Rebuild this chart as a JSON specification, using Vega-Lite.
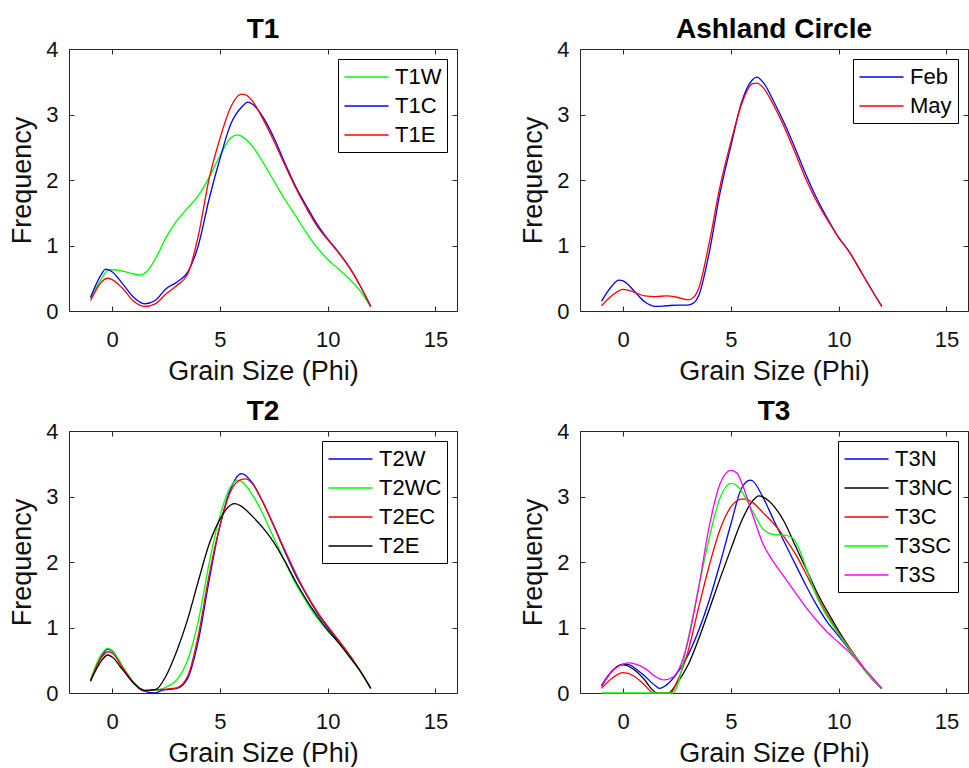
{
  "$schema": "https://vega.github.io/schema/vega-lite/v6.json",
  "background": "white",
  "padding": {"left": 8, "top": 15, "right": 0, "bottom": 0},
  "columns": 2,
  "spacing": {"row": 120, "column": 123},
  "bounds": "flush",
  "resolve": {"scale": {"color": "independent"}, "legend": {"color": "independent"}},
  "config": {
    "font": "Liberation Sans",
    "view": {"stroke": "#262626", "strokeWidth": 1},
    "title": {"font": "Liberation Sans", "fontSize": 28, "fontWeight": "bold", "color": "black", "offset": -6, "anchor": "middle"},
    "axis": {"grid": false, "domain": false, "tickSize": -5, "tickColor": "#262626", "labelFont": "Liberation Sans", "labelFontSize": 22, "labelColor": "#111", "titleFont": "Liberation Sans", "titleFontSize": 27, "titleFontWeight": "normal", "titleColor": "#111"},
    "legend": {"orient": "top-right", "offset": 10, "title": null, "strokeColor": "black", "fillColor": "white", "padding": 5.5, "symbolType": "M-1.913,0H1.913", "symbolSize": 529, "symbolOffset": 10.5, "symbolStrokeWidth": 1.3, "labelFont": "Liberation Sans", "labelFontSize": 22, "labelColor": "black", "rowPadding": 5, "labelOffset": 16}
  },
  "datasets": {
    "t1": [
      {"phi": -1, "freq": 0.19, "sample": "T1W"}, {"phi": -0.5, "freq": 0.49, "sample": "T1W"}, {"phi": -0.2, "freq": 0.62, "sample": "T1W"}, {"phi": 0, "freq": 0.63, "sample": "T1W"}, {"phi": 0.5, "freq": 0.61, "sample": "T1W"}, {"phi": 1, "freq": 0.565, "sample": "T1W"}, {"phi": 1.3, "freq": 0.55, "sample": "T1W"}, {"phi": 1.6, "freq": 0.6, "sample": "T1W"}, {"phi": 2, "freq": 0.79, "sample": "T1W"}, {"phi": 2.5, "freq": 1.12, "sample": "T1W"}, {"phi": 3, "freq": 1.38, "sample": "T1W"}, {"phi": 3.5, "freq": 1.57, "sample": "T1W"}, {"phi": 4, "freq": 1.76, "sample": "T1W"}, {"phi": 4.5, "freq": 2.04, "sample": "T1W"}, {"phi": 5, "freq": 2.37, "sample": "T1W"}, {"phi": 5.5, "freq": 2.64, "sample": "T1W"}, {"phi": 5.8, "freq": 2.69, "sample": "T1W"}, {"phi": 6, "freq": 2.67, "sample": "T1W"}, {"phi": 6.5, "freq": 2.52, "sample": "T1W"}, {"phi": 7, "freq": 2.27, "sample": "T1W"}, {"phi": 7.5, "freq": 1.99, "sample": "T1W"}, {"phi": 8, "freq": 1.71, "sample": "T1W"}, {"phi": 8.5, "freq": 1.46, "sample": "T1W"}, {"phi": 9, "freq": 1.2, "sample": "T1W"}, {"phi": 9.5, "freq": 0.97, "sample": "T1W"}, {"phi": 10, "freq": 0.79, "sample": "T1W"}, {"phi": 10.5, "freq": 0.64, "sample": "T1W"}, {"phi": 11, "freq": 0.49, "sample": "T1W"}, {"phi": 11.5, "freq": 0.31, "sample": "T1W"}, {"phi": 12, "freq": 0.06, "sample": "T1W"},
      {"phi": -1, "freq": 0.21, "sample": "T1C"}, {"phi": -0.5, "freq": 0.56, "sample": "T1C"}, {"phi": -0.3, "freq": 0.64, "sample": "T1C"}, {"phi": 0, "freq": 0.6, "sample": "T1C"}, {"phi": 0.5, "freq": 0.41, "sample": "T1C"}, {"phi": 1, "freq": 0.21, "sample": "T1C"}, {"phi": 1.5, "freq": 0.11, "sample": "T1C"}, {"phi": 2, "freq": 0.16, "sample": "T1C"}, {"phi": 2.5, "freq": 0.34, "sample": "T1C"}, {"phi": 3, "freq": 0.44, "sample": "T1C"}, {"phi": 3.5, "freq": 0.59, "sample": "T1C"}, {"phi": 4, "freq": 1.0, "sample": "T1C"}, {"phi": 4.5, "freq": 1.71, "sample": "T1C"}, {"phi": 5, "freq": 2.32, "sample": "T1C"}, {"phi": 5.5, "freq": 2.85, "sample": "T1C"}, {"phi": 6, "freq": 3.11, "sample": "T1C"}, {"phi": 6.3, "freq": 3.19, "sample": "T1C"}, {"phi": 6.5, "freq": 3.16, "sample": "T1C"}, {"phi": 7, "freq": 2.96, "sample": "T1C"}, {"phi": 7.5, "freq": 2.65, "sample": "T1C"}, {"phi": 8, "freq": 2.27, "sample": "T1C"}, {"phi": 8.5, "freq": 1.91, "sample": "T1C"}, {"phi": 9, "freq": 1.61, "sample": "T1C"}, {"phi": 9.5, "freq": 1.33, "sample": "T1C"}, {"phi": 10, "freq": 1.1, "sample": "T1C"}, {"phi": 10.5, "freq": 0.9, "sample": "T1C"}, {"phi": 11, "freq": 0.67, "sample": "T1C"}, {"phi": 11.5, "freq": 0.39, "sample": "T1C"}, {"phi": 12, "freq": 0.07, "sample": "T1C"},
      {"phi": -1, "freq": 0.16, "sample": "T1E"}, {"phi": -0.5, "freq": 0.44, "sample": "T1E"}, {"phi": -0.2, "freq": 0.5, "sample": "T1E"}, {"phi": 0, "freq": 0.48, "sample": "T1E"}, {"phi": 0.5, "freq": 0.34, "sample": "T1E"}, {"phi": 1, "freq": 0.15, "sample": "T1E"}, {"phi": 1.5, "freq": 0.07, "sample": "T1E"}, {"phi": 2, "freq": 0.11, "sample": "T1E"}, {"phi": 2.5, "freq": 0.26, "sample": "T1E"}, {"phi": 3, "freq": 0.39, "sample": "T1E"}, {"phi": 3.5, "freq": 0.56, "sample": "T1E"}, {"phi": 4, "freq": 1.15, "sample": "T1E"}, {"phi": 4.5, "freq": 2.02, "sample": "T1E"}, {"phi": 5, "freq": 2.63, "sample": "T1E"}, {"phi": 5.5, "freq": 3.11, "sample": "T1E"}, {"phi": 6, "freq": 3.31, "sample": "T1E"}, {"phi": 6.2, "freq": 3.3, "sample": "T1E"}, {"phi": 6.5, "freq": 3.21, "sample": "T1E"}, {"phi": 7, "freq": 2.93, "sample": "T1E"}, {"phi": 7.5, "freq": 2.6, "sample": "T1E"}, {"phi": 8, "freq": 2.24, "sample": "T1E"}, {"phi": 8.5, "freq": 1.89, "sample": "T1E"}, {"phi": 9, "freq": 1.58, "sample": "T1E"}, {"phi": 9.5, "freq": 1.3, "sample": "T1E"}, {"phi": 10, "freq": 1.09, "sample": "T1E"}, {"phi": 10.5, "freq": 0.89, "sample": "T1E"}, {"phi": 11, "freq": 0.67, "sample": "T1E"}, {"phi": 11.5, "freq": 0.39, "sample": "T1E"}, {"phi": 12, "freq": 0.07, "sample": "T1E"}
    ],
    "ac": [
      {"phi": -1, "freq": 0.15, "sample": "Feb"}, {"phi": -0.5, "freq": 0.39, "sample": "Feb"}, {"phi": -0.2, "freq": 0.47, "sample": "Feb"}, {"phi": 0, "freq": 0.46, "sample": "Feb"}, {"phi": 0.5, "freq": 0.31, "sample": "Feb"}, {"phi": 1, "freq": 0.14, "sample": "Feb"}, {"phi": 1.5, "freq": 0.07, "sample": "Feb"}, {"phi": 2, "freq": 0.08, "sample": "Feb"}, {"phi": 2.5, "freq": 0.09, "sample": "Feb"}, {"phi": 3, "freq": 0.09, "sample": "Feb"}, {"phi": 3.3, "freq": 0.13, "sample": "Feb"}, {"phi": 3.5, "freq": 0.23, "sample": "Feb"}, {"phi": 4, "freq": 0.9, "sample": "Feb"}, {"phi": 4.5, "freq": 1.81, "sample": "Feb"}, {"phi": 5, "freq": 2.52, "sample": "Feb"}, {"phi": 5.5, "freq": 3.19, "sample": "Feb"}, {"phi": 6, "freq": 3.53, "sample": "Feb"}, {"phi": 6.2, "freq": 3.57, "sample": "Feb"}, {"phi": 6.5, "freq": 3.49, "sample": "Feb"}, {"phi": 7, "freq": 3.19, "sample": "Feb"}, {"phi": 7.5, "freq": 2.85, "sample": "Feb"}, {"phi": 8, "freq": 2.47, "sample": "Feb"}, {"phi": 8.5, "freq": 2.07, "sample": "Feb"}, {"phi": 9, "freq": 1.71, "sample": "Feb"}, {"phi": 9.5, "freq": 1.4, "sample": "Feb"}, {"phi": 10, "freq": 1.12, "sample": "Feb"}, {"phi": 10.5, "freq": 0.9, "sample": "Feb"}, {"phi": 11, "freq": 0.62, "sample": "Feb"}, {"phi": 11.5, "freq": 0.34, "sample": "Feb"}, {"phi": 12, "freq": 0.07, "sample": "Feb"},
      {"phi": -1, "freq": 0.08, "sample": "May"}, {"phi": -0.5, "freq": 0.24, "sample": "May"}, {"phi": 0, "freq": 0.33, "sample": "May"}, {"phi": 0.5, "freq": 0.29, "sample": "May"}, {"phi": 1, "freq": 0.23, "sample": "May"}, {"phi": 1.5, "freq": 0.22, "sample": "May"}, {"phi": 2, "freq": 0.23, "sample": "May"}, {"phi": 2.5, "freq": 0.21, "sample": "May"}, {"phi": 3, "freq": 0.17, "sample": "May"}, {"phi": 3.3, "freq": 0.22, "sample": "May"}, {"phi": 3.5, "freq": 0.34, "sample": "May"}, {"phi": 4, "freq": 1.05, "sample": "May"}, {"phi": 4.5, "freq": 1.91, "sample": "May"}, {"phi": 5, "freq": 2.58, "sample": "May"}, {"phi": 5.5, "freq": 3.16, "sample": "May"}, {"phi": 6, "freq": 3.47, "sample": "May"}, {"phi": 6.2, "freq": 3.48, "sample": "May"}, {"phi": 6.5, "freq": 3.41, "sample": "May"}, {"phi": 7, "freq": 3.13, "sample": "May"}, {"phi": 7.5, "freq": 2.79, "sample": "May"}, {"phi": 8, "freq": 2.4, "sample": "May"}, {"phi": 8.5, "freq": 2.0, "sample": "May"}, {"phi": 9, "freq": 1.66, "sample": "May"}, {"phi": 9.5, "freq": 1.38, "sample": "May"}, {"phi": 10, "freq": 1.12, "sample": "May"}, {"phi": 10.5, "freq": 0.9, "sample": "May"}, {"phi": 11, "freq": 0.62, "sample": "May"}, {"phi": 11.5, "freq": 0.34, "sample": "May"}, {"phi": 12, "freq": 0.07, "sample": "May"}
    ],
    "t2": [
      {"phi": -1, "freq": 0.19, "sample": "T2W"}, {"phi": -0.5, "freq": 0.56, "sample": "T2W"}, {"phi": -0.2, "freq": 0.67, "sample": "T2W"}, {"phi": 0, "freq": 0.64, "sample": "T2W"}, {"phi": 0.5, "freq": 0.39, "sample": "T2W"}, {"phi": 1, "freq": 0.16, "sample": "T2W"}, {"phi": 1.5, "freq": 0.03, "sample": "T2W"}, {"phi": 2, "freq": 0.0, "sample": "T2W"}, {"phi": 2.3, "freq": 0.04, "sample": "T2W"}, {"phi": 2.5, "freq": 0.05, "sample": "T2W"}, {"phi": 3, "freq": 0.07, "sample": "T2W"}, {"phi": 3.5, "freq": 0.22, "sample": "T2W"}, {"phi": 4, "freq": 0.8, "sample": "T2W"}, {"phi": 4.5, "freq": 1.72, "sample": "T2W"}, {"phi": 5, "freq": 2.55, "sample": "T2W"}, {"phi": 5.5, "freq": 3.12, "sample": "T2W"}, {"phi": 6, "freq": 3.35, "sample": "T2W"}, {"phi": 6.5, "freq": 3.21, "sample": "T2W"}, {"phi": 7, "freq": 2.91, "sample": "T2W"}, {"phi": 7.5, "freq": 2.55, "sample": "T2W"}, {"phi": 8, "freq": 2.17, "sample": "T2W"}, {"phi": 8.5, "freq": 1.81, "sample": "T2W"}, {"phi": 9, "freq": 1.51, "sample": "T2W"}, {"phi": 9.5, "freq": 1.23, "sample": "T2W"}, {"phi": 10, "freq": 1.0, "sample": "T2W"}, {"phi": 10.5, "freq": 0.79, "sample": "T2W"}, {"phi": 11, "freq": 0.58, "sample": "T2W"}, {"phi": 11.5, "freq": 0.34, "sample": "T2W"}, {"phi": 12, "freq": 0.07, "sample": "T2W"},
      {"phi": -1, "freq": 0.21, "sample": "T2WC"}, {"phi": -0.5, "freq": 0.59, "sample": "T2WC"}, {"phi": -0.2, "freq": 0.68, "sample": "T2WC"}, {"phi": 0, "freq": 0.65, "sample": "T2WC"}, {"phi": 0.5, "freq": 0.4, "sample": "T2WC"}, {"phi": 1, "freq": 0.16, "sample": "T2WC"}, {"phi": 1.5, "freq": 0.04, "sample": "T2WC"}, {"phi": 2, "freq": 0.04, "sample": "T2WC"}, {"phi": 2.5, "freq": 0.09, "sample": "T2WC"}, {"phi": 3, "freq": 0.2, "sample": "T2WC"}, {"phi": 3.5, "freq": 0.5, "sample": "T2WC"}, {"phi": 4, "freq": 1.1, "sample": "T2WC"}, {"phi": 4.5, "freq": 1.98, "sample": "T2WC"}, {"phi": 5, "freq": 2.7, "sample": "T2WC"}, {"phi": 5.5, "freq": 3.15, "sample": "T2WC"}, {"phi": 5.8, "freq": 3.25, "sample": "T2WC"}, {"phi": 6, "freq": 3.23, "sample": "T2WC"}, {"phi": 6.5, "freq": 3.03, "sample": "T2WC"}, {"phi": 7, "freq": 2.73, "sample": "T2WC"}, {"phi": 7.5, "freq": 2.37, "sample": "T2WC"}, {"phi": 8, "freq": 2.02, "sample": "T2WC"}, {"phi": 8.5, "freq": 1.68, "sample": "T2WC"}, {"phi": 9, "freq": 1.4, "sample": "T2WC"}, {"phi": 9.5, "freq": 1.15, "sample": "T2WC"}, {"phi": 10, "freq": 0.95, "sample": "T2WC"}, {"phi": 10.5, "freq": 0.77, "sample": "T2WC"}, {"phi": 11, "freq": 0.56, "sample": "T2WC"}, {"phi": 11.5, "freq": 0.34, "sample": "T2WC"}, {"phi": 12, "freq": 0.07, "sample": "T2WC"},
      {"phi": -1, "freq": 0.19, "sample": "T2EC"}, {"phi": -0.5, "freq": 0.54, "sample": "T2EC"}, {"phi": -0.2, "freq": 0.63, "sample": "T2EC"}, {"phi": 0, "freq": 0.61, "sample": "T2EC"}, {"phi": 0.5, "freq": 0.38, "sample": "T2EC"}, {"phi": 1, "freq": 0.15, "sample": "T2EC"}, {"phi": 1.5, "freq": 0.03, "sample": "T2EC"}, {"phi": 2, "freq": 0.05, "sample": "T2EC"}, {"phi": 2.5, "freq": 0.06, "sample": "T2EC"}, {"phi": 3, "freq": 0.08, "sample": "T2EC"}, {"phi": 3.5, "freq": 0.25, "sample": "T2EC"}, {"phi": 4, "freq": 0.88, "sample": "T2EC"}, {"phi": 4.5, "freq": 1.8, "sample": "T2EC"}, {"phi": 5, "freq": 2.55, "sample": "T2EC"}, {"phi": 5.5, "freq": 3.08, "sample": "T2EC"}, {"phi": 6, "freq": 3.26, "sample": "T2EC"}, {"phi": 6.2, "freq": 3.27, "sample": "T2EC"}, {"phi": 6.5, "freq": 3.2, "sample": "T2EC"}, {"phi": 7, "freq": 2.91, "sample": "T2EC"}, {"phi": 7.5, "freq": 2.56, "sample": "T2EC"}, {"phi": 8, "freq": 2.19, "sample": "T2EC"}, {"phi": 8.5, "freq": 1.84, "sample": "T2EC"}, {"phi": 9, "freq": 1.52, "sample": "T2EC"}, {"phi": 9.5, "freq": 1.25, "sample": "T2EC"}, {"phi": 10, "freq": 1.02, "sample": "T2EC"}, {"phi": 10.5, "freq": 0.81, "sample": "T2EC"}, {"phi": 11, "freq": 0.59, "sample": "T2EC"}, {"phi": 11.5, "freq": 0.34, "sample": "T2EC"}, {"phi": 12, "freq": 0.07, "sample": "T2EC"},
      {"phi": -1, "freq": 0.18, "sample": "T2E"}, {"phi": -0.5, "freq": 0.49, "sample": "T2E"}, {"phi": -0.2, "freq": 0.58, "sample": "T2E"}, {"phi": 0, "freq": 0.55, "sample": "T2E"}, {"phi": 0.5, "freq": 0.35, "sample": "T2E"}, {"phi": 1, "freq": 0.15, "sample": "T2E"}, {"phi": 1.5, "freq": 0.04, "sample": "T2E"}, {"phi": 2, "freq": 0.05, "sample": "T2E"}, {"phi": 2.5, "freq": 0.26, "sample": "T2E"}, {"phi": 3, "freq": 0.64, "sample": "T2E"}, {"phi": 3.5, "freq": 1.12, "sample": "T2E"}, {"phi": 4, "freq": 1.71, "sample": "T2E"}, {"phi": 4.5, "freq": 2.27, "sample": "T2E"}, {"phi": 5, "freq": 2.65, "sample": "T2E"}, {"phi": 5.5, "freq": 2.87, "sample": "T2E"}, {"phi": 5.7, "freq": 2.89, "sample": "T2E"}, {"phi": 6, "freq": 2.85, "sample": "T2E"}, {"phi": 6.5, "freq": 2.7, "sample": "T2E"}, {"phi": 7, "freq": 2.52, "sample": "T2E"}, {"phi": 7.5, "freq": 2.3, "sample": "T2E"}, {"phi": 8, "freq": 2.02, "sample": "T2E"}, {"phi": 8.5, "freq": 1.71, "sample": "T2E"}, {"phi": 9, "freq": 1.43, "sample": "T2E"}, {"phi": 9.5, "freq": 1.18, "sample": "T2E"}, {"phi": 10, "freq": 0.96, "sample": "T2E"}, {"phi": 10.5, "freq": 0.77, "sample": "T2E"}, {"phi": 11, "freq": 0.56, "sample": "T2E"}, {"phi": 11.5, "freq": 0.34, "sample": "T2E"}, {"phi": 12, "freq": 0.07, "sample": "T2E"}
    ],
    "t3": [
      {"phi": -1, "freq": 0.12, "sample": "T3N"}, {"phi": -0.5, "freq": 0.34, "sample": "T3N"}, {"phi": 0, "freq": 0.44, "sample": "T3N"}, {"phi": 0.3, "freq": 0.43, "sample": "T3N"}, {"phi": 0.5, "freq": 0.39, "sample": "T3N"}, {"phi": 1, "freq": 0.26, "sample": "T3N"}, {"phi": 1.5, "freq": 0.11, "sample": "T3N"}, {"phi": 1.7, "freq": 0.07, "sample": "T3N"}, {"phi": 2, "freq": 0.12, "sample": "T3N"}, {"phi": 2.5, "freq": 0.3, "sample": "T3N"}, {"phi": 3, "freq": 0.57, "sample": "T3N"}, {"phi": 3.5, "freq": 0.95, "sample": "T3N"}, {"phi": 4, "freq": 1.42, "sample": "T3N"}, {"phi": 4.5, "freq": 1.98, "sample": "T3N"}, {"phi": 5, "freq": 2.58, "sample": "T3N"}, {"phi": 5.5, "freq": 3.13, "sample": "T3N"}, {"phi": 5.9, "freq": 3.25, "sample": "T3N"}, {"phi": 6, "freq": 3.24, "sample": "T3N"}, {"phi": 6.5, "freq": 2.98, "sample": "T3N"}, {"phi": 7, "freq": 2.63, "sample": "T3N"}, {"phi": 7.5, "freq": 2.29, "sample": "T3N"}, {"phi": 8, "freq": 1.96, "sample": "T3N"}, {"phi": 8.5, "freq": 1.63, "sample": "T3N"}, {"phi": 9, "freq": 1.33, "sample": "T3N"}, {"phi": 9.5, "freq": 1.07, "sample": "T3N"}, {"phi": 10, "freq": 0.87, "sample": "T3N"}, {"phi": 10.5, "freq": 0.66, "sample": "T3N"}, {"phi": 11, "freq": 0.44, "sample": "T3N"}, {"phi": 11.5, "freq": 0.24, "sample": "T3N"}, {"phi": 12, "freq": 0.07, "sample": "T3N"},
      {"phi": -1, "freq": 0.1, "sample": "T3NC"}, {"phi": -0.5, "freq": 0.34, "sample": "T3NC"}, {"phi": -0.1, "freq": 0.43, "sample": "T3NC"}, {"phi": 0, "freq": 0.43, "sample": "T3NC"}, {"phi": 0.5, "freq": 0.36, "sample": "T3NC"}, {"phi": 1, "freq": 0.2, "sample": "T3NC"}, {"phi": 1.3, "freq": 0.07, "sample": "T3NC"}, {"phi": 1.5, "freq": 0.01, "sample": "T3NC"}, {"phi": 1.7, "freq": 0, "sample": "T3NC"}, {"phi": 2.1, "freq": 0, "sample": "T3NC"}, {"phi": 2.5, "freq": 0.15, "sample": "T3NC"}, {"phi": 3, "freq": 0.42, "sample": "T3NC"}, {"phi": 3.5, "freq": 0.82, "sample": "T3NC"}, {"phi": 4, "freq": 1.28, "sample": "T3NC"}, {"phi": 4.5, "freq": 1.75, "sample": "T3NC"}, {"phi": 5, "freq": 2.2, "sample": "T3NC"}, {"phi": 5.5, "freq": 2.63, "sample": "T3NC"}, {"phi": 6, "freq": 2.93, "sample": "T3NC"}, {"phi": 6.3, "freq": 3.01, "sample": "T3NC"}, {"phi": 6.5, "freq": 2.99, "sample": "T3NC"}, {"phi": 7, "freq": 2.85, "sample": "T3NC"}, {"phi": 7.5, "freq": 2.6, "sample": "T3NC"}, {"phi": 8, "freq": 2.24, "sample": "T3NC"}, {"phi": 8.5, "freq": 1.89, "sample": "T3NC"}, {"phi": 9, "freq": 1.53, "sample": "T3NC"}, {"phi": 9.5, "freq": 1.23, "sample": "T3NC"}, {"phi": 10, "freq": 0.95, "sample": "T3NC"}, {"phi": 10.5, "freq": 0.69, "sample": "T3NC"}, {"phi": 11, "freq": 0.44, "sample": "T3NC"}, {"phi": 11.5, "freq": 0.23, "sample": "T3NC"}, {"phi": 12, "freq": 0.07, "sample": "T3NC"},
      {"phi": -1, "freq": 0.07, "sample": "T3C"}, {"phi": -0.5, "freq": 0.23, "sample": "T3C"}, {"phi": 0, "freq": 0.31, "sample": "T3C"}, {"phi": 0.5, "freq": 0.26, "sample": "T3C"}, {"phi": 1, "freq": 0.12, "sample": "T3C"}, {"phi": 1.3, "freq": 0.02, "sample": "T3C"}, {"phi": 1.4, "freq": 0, "sample": "T3C"}, {"phi": 2.2, "freq": 0, "sample": "T3C"}, {"phi": 2.5, "freq": 0.17, "sample": "T3C"}, {"phi": 3, "freq": 0.62, "sample": "T3C"}, {"phi": 3.5, "freq": 1.3, "sample": "T3C"}, {"phi": 4, "freq": 1.95, "sample": "T3C"}, {"phi": 4.5, "freq": 2.5, "sample": "T3C"}, {"phi": 5, "freq": 2.84, "sample": "T3C"}, {"phi": 5.5, "freq": 2.96, "sample": "T3C"}, {"phi": 5.7, "freq": 2.96, "sample": "T3C"}, {"phi": 6, "freq": 2.91, "sample": "T3C"}, {"phi": 6.5, "freq": 2.75, "sample": "T3C"}, {"phi": 7, "freq": 2.58, "sample": "T3C"}, {"phi": 7.5, "freq": 2.37, "sample": "T3C"}, {"phi": 8, "freq": 2.12, "sample": "T3C"}, {"phi": 8.5, "freq": 1.81, "sample": "T3C"}, {"phi": 9, "freq": 1.48, "sample": "T3C"}, {"phi": 9.5, "freq": 1.18, "sample": "T3C"}, {"phi": 10, "freq": 0.92, "sample": "T3C"}, {"phi": 10.5, "freq": 0.69, "sample": "T3C"}, {"phi": 11, "freq": 0.46, "sample": "T3C"}, {"phi": 11.5, "freq": 0.24, "sample": "T3C"}, {"phi": 12, "freq": 0.07, "sample": "T3C"},
      {"phi": -1, "freq": 0, "sample": "T3SC"}, {"phi": 2.3, "freq": 0, "sample": "T3SC"}, {"phi": 2.5, "freq": 0.1, "sample": "T3SC"}, {"phi": 3, "freq": 0.8, "sample": "T3SC"}, {"phi": 3.5, "freq": 1.6, "sample": "T3SC"}, {"phi": 4, "freq": 2.37, "sample": "T3SC"}, {"phi": 4.5, "freq": 2.98, "sample": "T3SC"}, {"phi": 5, "freq": 3.2, "sample": "T3SC"}, {"phi": 5.3, "freq": 3.16, "sample": "T3SC"}, {"phi": 5.5, "freq": 3.08, "sample": "T3SC"}, {"phi": 6, "freq": 2.78, "sample": "T3SC"}, {"phi": 6.5, "freq": 2.5, "sample": "T3SC"}, {"phi": 7, "freq": 2.42, "sample": "T3SC"}, {"phi": 7.5, "freq": 2.41, "sample": "T3SC"}, {"phi": 7.9, "freq": 2.36, "sample": "T3SC"}, {"phi": 8.2, "freq": 2.17, "sample": "T3SC"}, {"phi": 8.5, "freq": 1.9, "sample": "T3SC"}, {"phi": 9, "freq": 1.46, "sample": "T3SC"}, {"phi": 9.5, "freq": 1.15, "sample": "T3SC"}, {"phi": 10, "freq": 0.9, "sample": "T3SC"}, {"phi": 10.5, "freq": 0.67, "sample": "T3SC"}, {"phi": 11, "freq": 0.44, "sample": "T3SC"}, {"phi": 11.5, "freq": 0.23, "sample": "T3SC"}, {"phi": 12, "freq": 0.07, "sample": "T3SC"},
      {"phi": -1, "freq": 0.11, "sample": "T3S"}, {"phi": -0.5, "freq": 0.34, "sample": "T3S"}, {"phi": 0, "freq": 0.44, "sample": "T3S"}, {"phi": 0.3, "freq": 0.46, "sample": "T3S"}, {"phi": 0.5, "freq": 0.45, "sample": "T3S"}, {"phi": 1, "freq": 0.38, "sample": "T3S"}, {"phi": 1.5, "freq": 0.25, "sample": "T3S"}, {"phi": 1.9, "freq": 0.2, "sample": "T3S"}, {"phi": 2.3, "freq": 0.24, "sample": "T3S"}, {"phi": 2.7, "freq": 0.45, "sample": "T3S"}, {"phi": 3, "freq": 0.78, "sample": "T3S"}, {"phi": 3.5, "freq": 1.6, "sample": "T3S"}, {"phi": 4, "freq": 2.55, "sample": "T3S"}, {"phi": 4.5, "freq": 3.2, "sample": "T3S"}, {"phi": 5, "freq": 3.4, "sample": "T3S"}, {"phi": 5.3, "freq": 3.35, "sample": "T3S"}, {"phi": 5.5, "freq": 3.21, "sample": "T3S"}, {"phi": 6, "freq": 2.73, "sample": "T3S"}, {"phi": 6.5, "freq": 2.27, "sample": "T3S"}, {"phi": 7, "freq": 1.99, "sample": "T3S"}, {"phi": 7.5, "freq": 1.76, "sample": "T3S"}, {"phi": 8, "freq": 1.53, "sample": "T3S"}, {"phi": 8.5, "freq": 1.3, "sample": "T3S"}, {"phi": 9, "freq": 1.1, "sample": "T3S"}, {"phi": 9.5, "freq": 0.92, "sample": "T3S"}, {"phi": 10, "freq": 0.77, "sample": "T3S"}, {"phi": 10.5, "freq": 0.62, "sample": "T3S"}, {"phi": 11, "freq": 0.44, "sample": "T3S"}, {"phi": 11.5, "freq": 0.26, "sample": "T3S"}, {"phi": 12, "freq": 0.07, "sample": "T3S"}
    ]
  },
  "concat": [
    {
      "width": 388, "height": 262, "title": "T1", "data": {"name": "t1"},
      "layer": [
        {"mark": {"type": "line", "interpolate": "monotone", "strokeWidth": 1.3},
         "encoding": {
           "x": {"field": "phi", "type": "quantitative", "scale": {"domain": [-2, 16], "nice": false, "zero": false}, "axis": {"orient": "bottom", "values": [0, 5, 10, 15], "labelPadding": 23, "title": "Grain Size (Phi)", "titlePadding": 8}},
           "y": {"field": "freq", "type": "quantitative", "scale": {"domain": [0, 4], "nice": false}, "axis": {"orient": "left", "values": [0, 1, 2, 3, 4], "labelPadding": 16, "title": "Frequency", "titlePadding": 9}},
           "color": {"field": "sample", "type": "nominal", "scale": {"domain": ["T1W", "T1C", "T1E"], "range": ["#00ff00", "#0000ff", "#ff0000"]}}
         }},
        {"mark": {"type": "line", "strokeOpacity": 0},
         "encoding": {
           "x": {"field": "phi", "type": "quantitative", "axis": {"orient": "top", "values": [0, 5, 10, 15], "labels": false, "title": null}},
           "y": {"field": "freq", "type": "quantitative", "axis": {"orient": "right", "values": [0, 1, 2, 3, 4], "labels": false, "title": null}}
         }}
      ],
      "resolve": {"axis": {"x": "independent", "y": "independent"}}
    },
    {
      "width": 388, "height": 262, "title": "Ashland Circle", "data": {"name": "ac"},
      "layer": [
        {"mark": {"type": "line", "interpolate": "monotone", "strokeWidth": 1.3},
         "encoding": {
           "x": {"field": "phi", "type": "quantitative", "scale": {"domain": [-2, 16], "nice": false, "zero": false}, "axis": {"orient": "bottom", "values": [0, 5, 10, 15], "labelPadding": 23, "title": "Grain Size (Phi)", "titlePadding": 8}},
           "y": {"field": "freq", "type": "quantitative", "scale": {"domain": [0, 4], "nice": false}, "axis": {"orient": "left", "values": [0, 1, 2, 3, 4], "labelPadding": 16, "title": "Frequency", "titlePadding": 9}},
           "color": {"field": "sample", "type": "nominal", "scale": {"domain": ["Feb", "May"], "range": ["#0000ff", "#ff0000"]}}
         }},
        {"mark": {"type": "line", "strokeOpacity": 0},
         "encoding": {
           "x": {"field": "phi", "type": "quantitative", "axis": {"orient": "top", "values": [0, 5, 10, 15], "labels": false, "title": null}},
           "y": {"field": "freq", "type": "quantitative", "axis": {"orient": "right", "values": [0, 1, 2, 3, 4], "labels": false, "title": null}}
         }}
      ],
      "resolve": {"axis": {"x": "independent", "y": "independent"}}
    },
    {
      "width": 388, "height": 262, "title": "T2", "data": {"name": "t2"},
      "layer": [
        {"mark": {"type": "line", "interpolate": "monotone", "strokeWidth": 1.3},
         "encoding": {
           "x": {"field": "phi", "type": "quantitative", "scale": {"domain": [-2, 16], "nice": false, "zero": false}, "axis": {"orient": "bottom", "values": [0, 5, 10, 15], "labelPadding": 23, "title": "Grain Size (Phi)", "titlePadding": 8}},
           "y": {"field": "freq", "type": "quantitative", "scale": {"domain": [0, 4], "nice": false}, "axis": {"orient": "left", "values": [0, 1, 2, 3, 4], "labelPadding": 16, "title": "Frequency", "titlePadding": 9}},
           "color": {"field": "sample", "type": "nominal", "scale": {"domain": ["T2W", "T2WC", "T2EC", "T2E"], "range": ["#0000ff", "#00ff00", "#ff0000", "#000000"]}}
         }},
        {"mark": {"type": "line", "strokeOpacity": 0},
         "encoding": {
           "x": {"field": "phi", "type": "quantitative", "axis": {"orient": "top", "values": [0, 5, 10, 15], "labels": false, "title": null}},
           "y": {"field": "freq", "type": "quantitative", "axis": {"orient": "right", "values": [0, 1, 2, 3, 4], "labels": false, "title": null}}
         }}
      ],
      "resolve": {"axis": {"x": "independent", "y": "independent"}}
    },
    {
      "width": 388, "height": 262, "title": "T3", "data": {"name": "t3"},
      "layer": [
        {"mark": {"type": "line", "interpolate": "monotone", "strokeWidth": 1.3},
         "encoding": {
           "x": {"field": "phi", "type": "quantitative", "scale": {"domain": [-2, 16], "nice": false, "zero": false}, "axis": {"orient": "bottom", "values": [0, 5, 10, 15], "labelPadding": 23, "title": "Grain Size (Phi)", "titlePadding": 8}},
           "y": {"field": "freq", "type": "quantitative", "scale": {"domain": [0, 4], "nice": false}, "axis": {"orient": "left", "values": [0, 1, 2, 3, 4], "labelPadding": 16, "title": "Frequency", "titlePadding": 9}},
           "color": {"field": "sample", "type": "nominal", "scale": {"domain": ["T3N", "T3NC", "T3C", "T3SC", "T3S"], "range": ["#0000ff", "#000000", "#ff0000", "#00ff00", "#ff00ff"]}}
         }},
        {"mark": {"type": "line", "strokeOpacity": 0},
         "encoding": {
           "x": {"field": "phi", "type": "quantitative", "axis": {"orient": "top", "values": [0, 5, 10, 15], "labels": false, "title": null}},
           "y": {"field": "freq", "type": "quantitative", "axis": {"orient": "right", "values": [0, 1, 2, 3, 4], "labels": false, "title": null}}
         }}
      ],
      "resolve": {"axis": {"x": "independent", "y": "independent"}}
    }
  ]
}
